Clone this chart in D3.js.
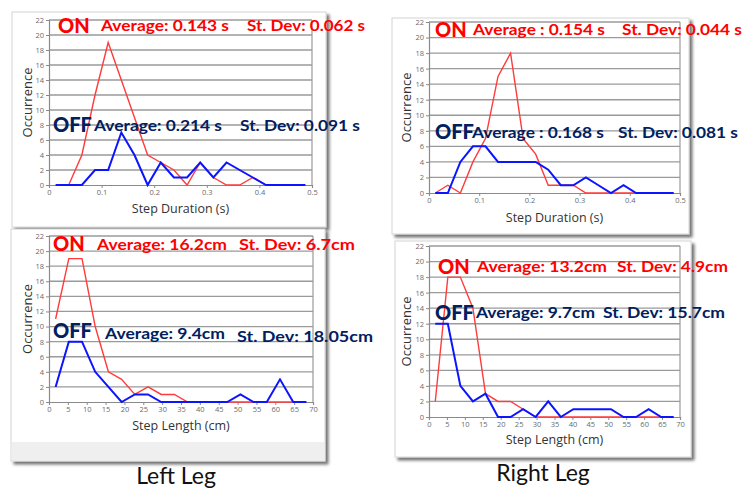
<!DOCTYPE html>
<html><head><meta charset="utf-8">
<script src="https://cdn.jsdelivr.net/npm/d3@7"></script>
<style>
html,body{margin:0;padding:0;background:#fff;}
svg{display:block;}
</style></head>
<body>
<svg id="chart" width="744" height="489"></svg>
<script>
// ---------------- DATA ----------------
const durationBins = [0.0125, 0.0375, 0.0625, 0.0875, 0.1125, 0.1375, 0.1625, 0.1875, 0.2125, 0.2375,
                      0.2625, 0.2875, 0.3125, 0.3375, 0.3625, 0.3875, 0.4125, 0.4375, 0.4625, 0.4875];
const lengthBins = [1.75, 5.25, 8.75, 12.25, 15.75, 19.25, 22.75, 26.25, 29.75, 33.25,
                    36.75, 40.25, 43.75, 47.25, 50.75, 54.25, 57.75, 61.25, 64.75, 68.25];

const leftDurationOn  = [null, 0, 4, 12, 19, 14, 9, 4, 3, 2, 0, 3, 1, 0, 0, 1, 0, null, null, null];
const leftDurationOff = [0, 0, 0, 2, 2, 7, 4, 0, 3, 1, 1, 3, 1, 3, 2, 1, 0, 0, 0, 0];
const rightDurationOn  = [0, 1, 0, 4, 7, 15, 18, 7, 5, 1, 1, 1, 0, 0, 0, 0, 0, null, null, null];
const rightDurationOff = [0, 0, 4, 6, 6, 4, 4, 4, 4, 3, 1, 1, 2, 1, 0, 1, 0, 0, 0, 0];
const leftLengthOn  = [11, 19, 19, 10, 4, 3, 1, 2, 1, 1, 0, 0, 0, 0, 0, 0, 0, 0, 0, null];
const leftLengthOff = [2, 8, 8, 4, 2, 0, 1, 1, 0, 0, 0, 0, 0, 0, 1, 0, 0, 3, 0, 0];
const rightLengthOn  = [2, 18, 18, 14, 3, 2, 2, 1, 0, 0, 0, 0, 0, 0, 0, 0, 0, 0, 0, null];
const rightLengthOff = [12, 12, 4, 2, 3, 0, 0, 1, 0, 2, 0, 1, 1, 1, 1, 0, 0, 1, 0, 0];

const yTicks = [0, 2, 4, 6, 8, 10, 12, 14, 16, 18, 20, 22];
const durationTicks = [0, 0.1, 0.2, 0.3, 0.4, 0.5];
const lengthTicks = [0, 5, 10, 15, 20, 25, 30, 35, 40, 45, 50, 55, 60, 65, 70];

const yTitle = "Occurrence";
const durationTitle = "Step Duration (s)";
const lengthTitle = "Step Length (cm)";
const legLabels = ["Left Leg", "Right Leg"];

const onTexts  = ["Average: 0.143 s", "St. Dev: 0.062 s", "Average : 0.154 s", "St. Dev: 0.044 s",
                  "Average: 16.2cm", "St. Dev: 6.7cm", "Average: 13.2cm", "St. Dev: 4.9cm"];
const offTexts = ["Average: 0.214 s", "St. Dev: 0.091 s", "Average : 0.168 s", "St. Dev: 0.081 s",
                  "Average: 9.4cm", "St. Dev: 18.05cm", "Average: 9.7cm", "St. Dev: 15.7cm"];

// ---------------- LAYOUT ----------------
const svg = d3.select("#chart");
const RED = "#ff0000", NAVY = "#002060";
const LINE_RED = "#ff3b3b", LINE_BLUE = "#0a14ff";

const panels = [
  { card:[12,12,314,215], footer:null, plot:[49,312,20,185], bins:durationBins, xmax:0.5, xticks:durationTicks, fmt:d3.format(""),
    xtitle:durationTitle, on:leftDurationOn, off:leftDurationOff, textIdx:0,
    ann:{ onLbl:[58,33], onA:[101,31,128], onS:[247,31,118], offLbl:[53,132], offA:[94,131,128], offS:[240,131,120] },
    titleY:213, occX:28 },
  { card:[392,18,297,216], footer:null, plot:[429,680,22,193], bins:durationBins, xmax:0.5, xticks:durationTicks, fmt:d3.format(""),
    xtitle:durationTitle, on:rightDurationOn, off:rightDurationOff, textIdx:2,
    ann:{ onLbl:[435,37], onA:[473,35,132], onS:[622,35,120], offLbl:[435,139], offA:[472,138,132], offS:[618,138,120] },
    titleY:222, occX:407 },
  { card:[11,229,314,232], footer:[442,18], plot:[49,313,236,402], bins:lengthBins, xmax:70, xticks:lengthTicks, fmt:d3.format(""),
    xtitle:lengthTitle, on:leftLengthOn, off:leftLengthOff, textIdx:4,
    ann:{ onLbl:[53,251], onA:[97,250,130], onS:[239,250,116], offLbl:[53,338], offA:[105,339,120], offS:[237,342,136] },
    titleY:430, occX:28 },
  { card:[395,241,296,216], footer:null, plot:[429,680,246,417], bins:lengthBins, xmax:70, xticks:lengthTicks, fmt:d3.format(""),
    xtitle:lengthTitle, on:rightLengthOn, off:rightLengthOff, textIdx:6,
    ann:{ onLbl:[438,274], onA:[477,272,130], onS:[617,272,111], offLbl:[435,320], offA:[476,318,119], offS:[603,318,122] },
    titleY:444, occX:407 }
];

// drop shadow filter
const defs = svg.append("defs");
const f = defs.append("filter").attr("id","sh").attr("x","-5%").attr("y","-5%").attr("width","115%").attr("height","115%");
f.append("feGaussianBlur").attr("in","SourceAlpha").attr("stdDeviation",1.6).attr("result","b");
f.append("feOffset").attr("in","b").attr("dx",3).attr("dy",3).attr("result","o");
f.append("feComponentTransfer").attr("in","o").attr("result","o2")
  .append("feFuncA").attr("type","linear").attr("slope",0.55);
const m = f.append("feMerge"); m.append("feMergeNode").attr("in","o2"); m.append("feMergeNode").attr("in","SourceGraphic");

panels.forEach(p => {
  const g = svg.append("g");
  const [cx, cy, cw, ch] = p.card;
  g.append("rect").attr("x",cx).attr("y",cy).attr("width",cw).attr("height",ch)
    .attr("fill","#fff").attr("stroke","#d4d4d4").attr("stroke-width",1).attr("filter","url(#sh)");
  if (p.footer) {
    g.append("rect").attr("x",cx+0.5).attr("y",p.footer[0]).attr("width",cw-1).attr("height",p.footer[1])
      .attr("fill","#efefef");
  }
  const [x0, x1, yT, yB] = p.plot;
  const x = d3.scaleLinear().domain([0, p.xmax]).range([x0, x1]);
  const y = d3.scaleLinear().domain([0, 22]).range([yB, yT]);

  // gridlines
  g.append("g").selectAll("line").data(yTicks.filter(t => t > 0)).join("line")
    .attr("x1", x0).attr("x2", x1).attr("y1", d => y(d)).attr("y2", d => y(d))
    .attr("stroke","#9a9a9a").attr("stroke-width",1.3);
  // right border
  g.append("line").attr("x1",x1).attr("x2",x1).attr("y1",yT).attr("y2",yB).attr("stroke","#9a9a9a").attr("stroke-width",1.2);

  // axes
  const ya = g.append("g").attr("transform",`translate(${x0},0)`)
    .call(d3.axisLeft(y).tickValues(yTicks).tickSize(3).tickPadding(2).tickFormat(d3.format("d")));
  const xa = g.append("g").attr("transform",`translate(0,${yB})`)
    .call(d3.axisBottom(x).tickValues(p.xticks).tickSize(3).tickPadding(2).tickFormat(p.fmt));
  [ya, xa].forEach(a => {
    a.select(".domain").attr("stroke","#8a8a8a").attr("stroke-width",1.2);
    a.selectAll(".tick line").attr("stroke","#8a8a8a");
    a.selectAll("text").attr("fill","#6a6a6a").attr("font-size",7.5).attr("font-family","Open Sans, sans-serif");
  });

  // lines
  const mk = arr => d3.line().defined(d => d[1] != null).x(d => x(d[0])).y(d => y(d[1]))(p.bins.map((b, i) => [b, arr[i]]));
  g.append("path").attr("d", mk(p.on)).attr("fill","none").attr("stroke",LINE_RED).attr("stroke-width",1.4).attr("stroke-linejoin","miter");
  g.append("path").attr("d", mk(p.off)).attr("fill","none").attr("stroke",LINE_BLUE).attr("stroke-width",2).attr("stroke-linejoin","miter");

  // axis titles
  g.append("text").attr("x",(x0 + x1)/2).attr("y",p.titleY).attr("text-anchor","middle")
    .attr("font-family","Open Sans, sans-serif").attr("font-size",12.5).attr("fill","#333").text(p.xtitle);
  g.append("text").attr("transform",`translate(${p.occX + 4},${(yT + yB)/2}) rotate(-90)`).attr("text-anchor","middle")
    .attr("font-family","Open Sans, sans-serif").attr("font-size",13).attr("fill","#333").text(yTitle);

  // annotations
  const a = p.ann, font = "Lato, 'Open Sans', sans-serif";
  const addLbl = (pos, txt, col, size) => g.append("text").attr("x",pos[0]).attr("y",pos[1])
    .attr("font-family",font).attr("font-weight",900).attr("font-size",size).attr("fill",col).text(txt);
  const addTxt = (pos, txt, col, size) => g.append("text").attr("x",pos[0]).attr("y",pos[1])
    .attr("font-family",font).attr("font-weight",700).attr("font-size",size).attr("fill",col)
    .attr("textLength",pos[2]).attr("lengthAdjust","spacingAndGlyphs").text(txt);
  addLbl(a.onLbl, "ON", RED, 20);
  addTxt(a.onA, onTexts[p.textIdx], RED, 16);
  addTxt(a.onS, onTexts[p.textIdx + 1], RED, 16);
  addLbl(a.offLbl, "OFF", NAVY, 20);
  addTxt(a.offA, offTexts[p.textIdx], NAVY, 16);
  addTxt(a.offS, offTexts[p.textIdx + 1], NAVY, 16);
});

// leg labels
svg.append("text").attr("x",176).attr("y",484).attr("text-anchor","middle")
  .attr("font-family","Lato, 'Open Sans', sans-serif").attr("font-size",23).attr("fill","#111").text(legLabels[0]);
svg.append("text").attr("x",543).attr("y",481).attr("text-anchor","middle")
  .attr("font-family","Lato, 'Open Sans', sans-serif").attr("font-size",23).attr("fill","#111").text(legLabels[1]);
</script>
</body></html>
